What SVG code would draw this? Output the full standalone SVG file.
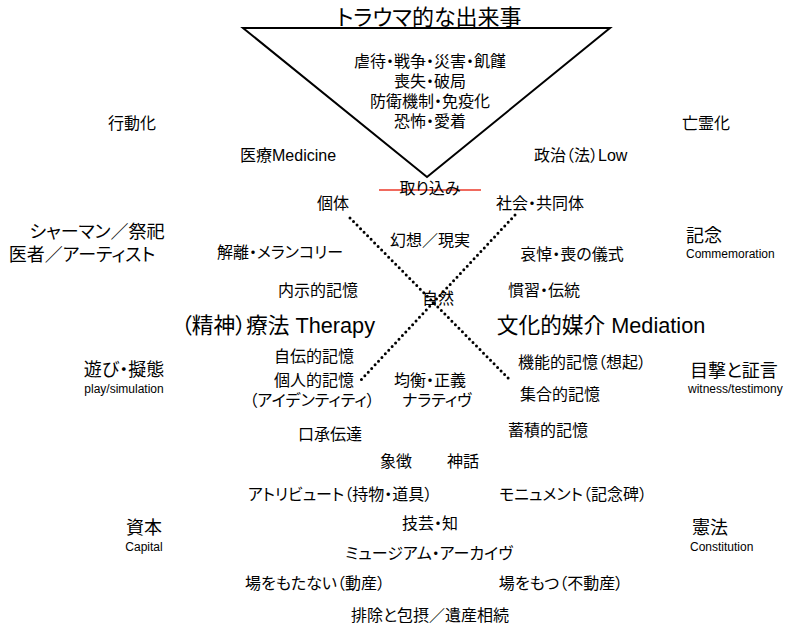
<svg xmlns="http://www.w3.org/2000/svg" width="793" height="627" viewBox="0 0 793 627">
<style>
text{font-family:"Liberation Sans","Noto Sans CJK JP",sans-serif;fill:#000;font-feature-settings:"palt";}
.t{font-size:16px;text-anchor:middle;}
.s{font-size:16px;}
.b{font-size:18px;}
.bc{font-size:18px;text-anchor:middle;}
.h{font-size:21.7px;text-anchor:middle;}
.e{font-size:12px;}
.ec{font-size:12px;text-anchor:middle;}
.dot{stroke:#000;stroke-width:3;stroke-dasharray:0 5;stroke-linecap:round;fill:none;}
</style>
<rect width="793" height="627" fill="#fff"/>
<g id="connectors">
<polygon points="243,28 610,28 427,177" fill="none" stroke="#000" stroke-width="2"/>
<line x1="379" y1="190" x2="481" y2="190" stroke="#f06a5e" stroke-width="2"/>
<line class="dot" x1="350" y1="218" x2="510" y2="380"/>
<line class="dot" x1="515" y1="215" x2="360" y2="381"/>
</g>
<g id="trauma">
<text x="429" y="25" style="font-size:22px;text-anchor:middle">トラウマ的な出来事</text>
<text class="t" x="430" y="67">虐待・戦争・災害・飢饉</text>
<text class="t" x="430" y="87">喪失・破局</text>
<text class="t" x="430" y="107">防衛機制・免疫化</text>
<text class="t" x="430" y="127">恐怖・愛着</text>
</g>
<g id="koudouka"><text class="t" x="132" y="129">行動化</text></g>
<g id="bourei"><text class="t" x="706" y="129">亡霊化</text></g>
<g id="iryou"><text class="s" x="240" y="161">医療Medicine</text></g>
<g id="seiji"><text class="s" x="534" y="161">政治（法）Low</text></g>
<g id="torikomi"><text class="t" x="430" y="194">取り込み</text></g>
<g id="kotai"><text class="t" x="333" y="209">個体</text></g>
<g id="shakai"><text class="t" x="540" y="209">社会・共同体</text></g>
<g id="shaman">
<text class="bc" x="97" y="238">シャーマン／祭祀</text>
<text class="bc" x="82" y="261">医者／アーティスト</text>
</g>
<g id="kinen">
<text class="b" x="686" y="242">記念</text>
<text class="e" x="686" y="258">Commemoration</text>
</g>
<g id="kairi"><text class="t" x="280" y="258">解離・メランコリー</text></g>
<g id="gensou"><text class="t" x="430" y="246">幻想／現実</text></g>
<g id="aitou"><text class="t" x="572" y="260">哀悼・喪の儀式</text></g>
<g id="naiji"><text class="t" x="318" y="296">内示的記憶</text></g>
<g id="kanshu"><text class="t" x="544" y="296">慣習・伝統</text></g>
<g id="shizen"><text class="t" x="438" y="304">自然</text></g>
<g id="therapy"><text class="h" x="278" y="333">（精神）療法 Therapy</text></g>
<g id="mediation"><text class="h" x="601" y="333">文化的媒介 Mediation</text></g>
<g id="jiden"><text class="t" x="314" y="362">自伝的記憶</text></g>
<g id="kojin">
<text class="t" x="314" y="386">個人的記憶</text>
<text class="t" x="312" y="406">（アイデンティティ）</text>
</g>
<g id="kinkou">
<text class="t" x="430" y="386">均衡・正義</text>
<text class="t" x="437" y="406">ナラティヴ</text>
</g>
<g id="kinou"><text class="t" x="582" y="368">機能的記憶（想起）</text></g>
<g id="shugou"><text class="t" x="560" y="400">集合的記憶</text></g>
<g id="mokugeki">
<text class="b" x="690" y="377">目撃と証言</text>
<text class="e" x="688" y="393">witness/testimony</text>
</g>
<g id="asobi">
<text class="bc" x="124" y="376">遊び・擬態</text>
<text class="ec" x="124" y="393">play/simulation</text>
</g>
<g id="koushou"><text class="t" x="330" y="440">口承伝達</text></g>
<g id="chikuseki"><text class="t" x="548" y="436">蓄積的記憶</text></g>
<g id="shouchou"><text class="t" x="396" y="467">象徴</text></g>
<g id="shinwa"><text class="t" x="463" y="467">神話</text></g>
<g id="attribute"><text class="t" x="340" y="500">アトリビュート（持物・道具）</text></g>
<g id="monument"><text class="t" x="573" y="500">モニュメント（記念碑）</text></g>
<g id="gigei"><text class="t" x="430" y="529">技芸・知</text></g>
<g id="museum"><text class="t" x="429" y="559">ミュージアム・アーカイヴ</text></g>
<g id="dousan"><text class="t" x="315" y="589">場をもたない（動産）</text></g>
<g id="fudousan"><text class="t" x="561" y="589">場をもつ（不動産）</text></g>
<g id="haijo"><text class="t" x="430" y="621">排除と包摂／遺産相続</text></g>
<g id="shihon">
<text class="bc" x="144" y="534">資本</text>
<text class="ec" x="144" y="551">Capital</text>
</g>
<g id="kenpou">
<text class="b" x="692" y="534">憲法</text>
<text class="e" x="690" y="551">Constitution</text>
</g>
</svg>
